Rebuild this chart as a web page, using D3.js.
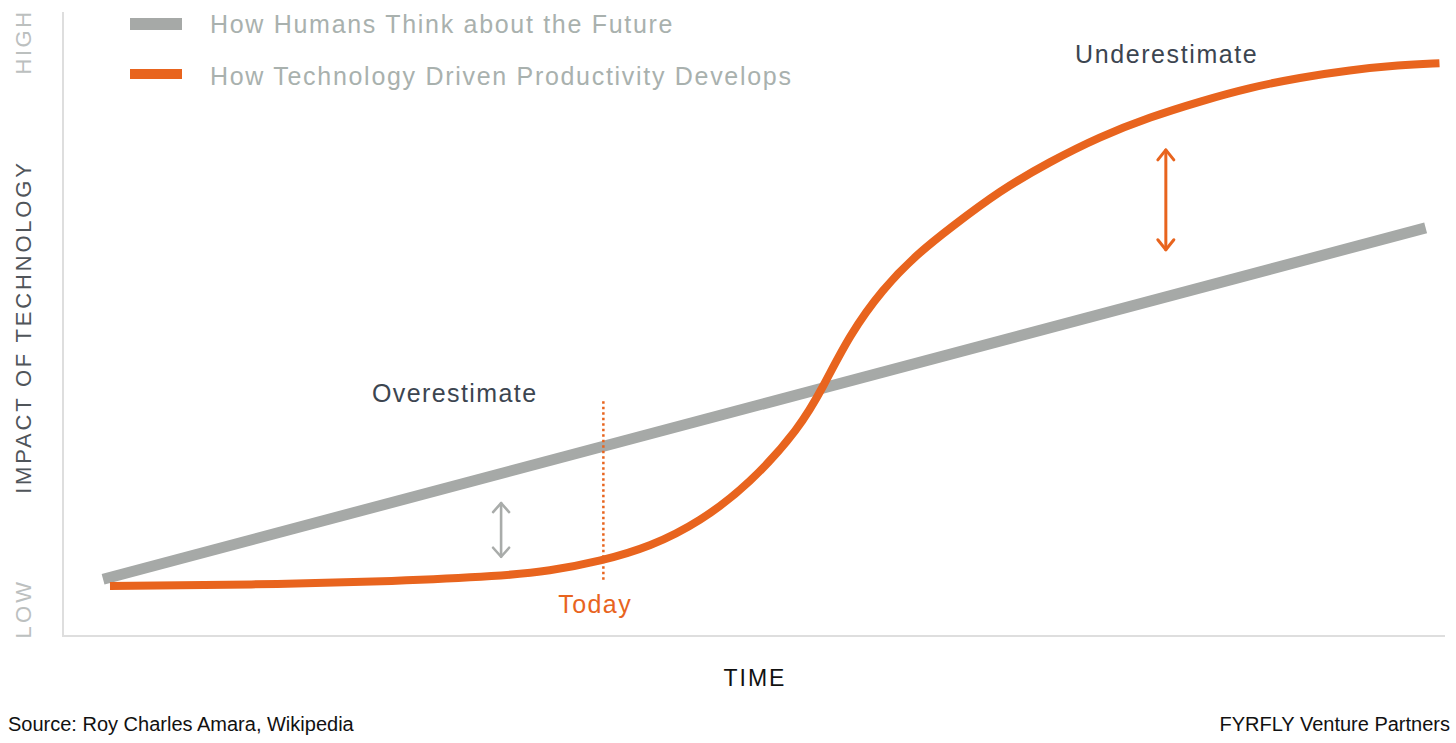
<!DOCTYPE html>
<html>
<head>
<meta charset="utf-8">
<script src="https://cdn.jsdelivr.net/npm/d3@7"></script>
<style>
  body { margin: 0; background: #fff; }
  text { font-family: "Liberation Sans", Arial, Helvetica, sans-serif; }
</style>
</head>
<body>
<svg id="chart"></svg>
<script>
// Curve values (time 0-100, impact 0-100)
const techTime = [3.4, 13.5, 24.4, 31.6, 35.2, 38.9, 42.5, 46.1, 49.7, 53.3, 55.0, 56.9,
  59.3, 61.8, 64.2, 67.8, 71.4, 75.0, 78.7, 82.3, 85.9, 89.5, 93.1, 96.7, 99.6];
const techImpact = [8.0, 8.2, 8.8, 9.6, 10.4, 12.0, 14.3, 18.3, 24.4, 33.3, 39.9, 48.2,
  55.6, 61.2, 65.4, 71.4, 76.0, 80.0, 83.2, 85.7, 87.9, 89.5, 90.7, 91.5, 91.8];
const humanTime = [2.9, 98.6];
const humanImpact = [9.1, 65.4];

const legendLabels = ["How Humans Think about the Future", "How Technology Driven Productivity Develops"];
const todayTime = 39.1;
const todaySpan = [9.0, 38.1];
const overArrow = { t: 31.7, from: 12.7, to: 21.3 };
const underArrow = { t: 79.8, from: 61.9, to: 77.9 };

const W = 1456, H = 743;
const grey = "#a6a9a7", orange = "#e8641e";

const svg = d3.select("#chart").attr("width", W).attr("height", H);

const x = d3.scaleLinear().domain([0, 100]).range([63, 1445]);
const y = d3.scaleLinear().domain([0, 100]).range([636, 12]);

// axes (plain lines, no ticks)
svg.append("line")
  .attr("x1", x(0)).attr("x2", x(0)).attr("y1", y(100)).attr("y2", y(0) + 1)
  .attr("stroke", "#dedede").attr("stroke-width", 2);
svg.append("line")
  .attr("x1", x(0) - 1).attr("x2", x(100)).attr("y1", y(0)).attr("y2", y(0))
  .attr("stroke", "#dedede").attr("stroke-width", 2);

// axis labels
svg.append("text")
  .attr("transform", `translate(31,${y(49.5)}) rotate(-90)`)
  .attr("text-anchor", "middle")
  .attr("font-size", 22).attr("letter-spacing", 2.8)
  .attr("fill", "#50555a")
  .text("IMPACT OF TECHNOLOGY");
svg.append("text")
  .attr("transform", `translate(31,${y(95.2)}) rotate(-90)`)
  .attr("text-anchor", "middle")
  .attr("font-size", 22).attr("letter-spacing", 2.5)
  .attr("fill", "#bcc0bf")
  .text("HIGH");
svg.append("text")
  .attr("transform", `translate(31,${y(4.4)}) rotate(-90)`)
  .attr("text-anchor", "middle")
  .attr("font-size", 22).attr("letter-spacing", 3.2)
  .attr("fill", "#bcc0bf")
  .text("LOW");
svg.append("text")
  .attr("x", 755).attr("y", 686)
  .attr("text-anchor", "middle")
  .attr("font-size", 23).attr("letter-spacing", 2)
  .attr("fill", "#111")
  .text("TIME");

// human expectation line
const humanData = humanTime.map((t, i) => [t, humanImpact[i]]);
svg.append("path")
  .datum(humanData)
  .attr("fill", "none")
  .attr("stroke", grey).attr("stroke-width", 11)
  .attr("d", d3.line().x(d => x(d[0])).y(d => y(d[1])));

// technology curve
const techData = techTime.map((t, i) => [t, techImpact[i]]);
svg.append("path")
  .datum(techData)
  .attr("fill", "none")
  .attr("stroke", orange).attr("stroke-width", 8)
  .attr("d", d3.line().curve(d3.curveBasis).x(d => x(d[0])).y(d => y(d[1])));

// today marker
svg.append("line")
  .attr("x1", x(todayTime)).attr("x2", x(todayTime))
  .attr("y1", y(todaySpan[0])).attr("y2", y(todaySpan[1]))
  .attr("stroke", orange).attr("stroke-width", 2.5)
  .attr("stroke-dasharray", "2.5,3");
svg.append("text")
  .attr("x", x(todayTime) - 45).attr("y", 613)
  .attr("font-size", 25).attr("letter-spacing", 1.4)
  .attr("fill", orange)
  .text("Today");

// double arrows
function doubleArrow(a, color, sw, hw, hh) {
  const px = x(a.t), y1 = y(a.from), y2 = y(a.to);
  const g = svg.append("g").attr("fill", "none").attr("stroke", color)
    .attr("stroke-width", sw).attr("stroke-linecap", "round").attr("stroke-linejoin", "round");
  g.append("line").attr("x1", px).attr("x2", px).attr("y1", y1).attr("y2", y2);
  g.append("path").attr("d", `M${px - hw},${y2 + hh}L${px},${y2}L${px + hw},${y2 + hh}`);
  g.append("path").attr("d", `M${px - hw},${y1 - hh}L${px},${y1}L${px + hw},${y1 - hh}`);
}
doubleArrow(overArrow, "#a9acaa", 2.6, 8, 9);
doubleArrow(underArrow, orange, 3, 8, 10);

// annotations
svg.append("text")
  .attr("x", 372).attr("y", 402)
  .attr("font-size", 25).attr("letter-spacing", 1.4)
  .attr("fill", "#3c4550")
  .text("Overestimate");
svg.append("text")
  .attr("x", 1075).attr("y", 63)
  .attr("font-size", 25).attr("letter-spacing", 1.6)
  .attr("fill", "#3c4550")
  .text("Underestimate");

// legend
const legend = svg.append("g");
legendLabels.forEach((label, i) => {
  legend.append("rect")
    .attr("x", 130).attr("y", i === 0 ? 18 : 69)
    .attr("width", 52).attr("height", i === 0 ? 12 : 10)
    .attr("fill", i === 0 ? grey : orange);
  legend.append("text")
    .attr("x", 210).attr("y", i === 0 ? 33 : 85)
    .attr("font-size", 25).attr("letter-spacing", 1.7)
    .attr("fill", "#a9b1ae")
    .text(label);
});

// footer
svg.append("text")
  .attr("x", 8).attr("y", 731)
  .attr("font-size", 20).attr("fill", "#111")
  .text("Source: Roy Charles Amara, Wikipedia");
svg.append("text")
  .attr("x", 1450).attr("y", 731)
  .attr("text-anchor", "end")
  .attr("font-size", 20).attr("fill", "#111")
  .text("FYRFLY Venture Partners");
</script>
</body>
</html>
